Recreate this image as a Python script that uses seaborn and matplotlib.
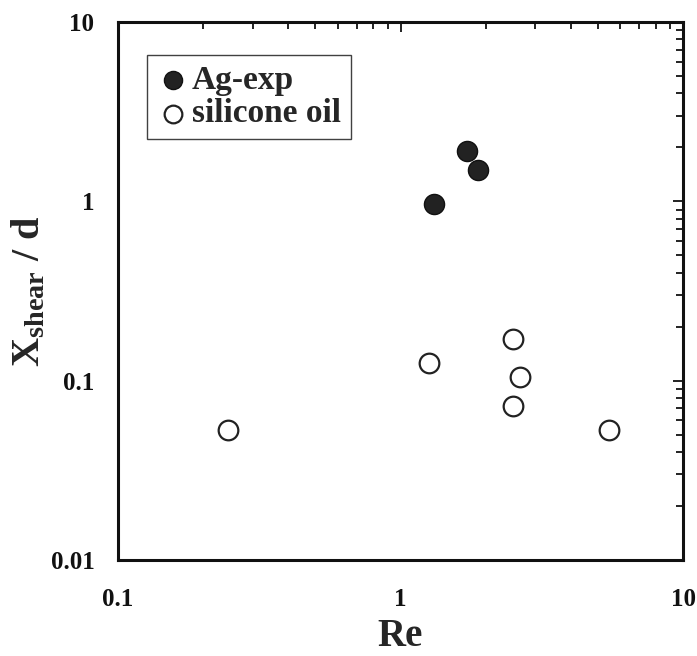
import matplotlib
matplotlib.use("Agg")
import matplotlib.pyplot as plt
import seaborn as sns
import pandas as pd
from matplotlib.ticker import LogLocator, NullFormatter, FixedLocator, FixedFormatter

# Measured data
ag_re = [1.31, 1.72, 1.88]
ag_x = [0.967, 1.91, 1.50]

oil_re = [0.245, 1.26, 2.50, 2.65, 2.50, 5.47]
oil_x = [0.053, 0.1256, 0.171, 0.105, 0.0723, 0.053]

x_ticks = [0.1, 1, 10]
x_tick_labels = ["0.1", "1", "10"]
y_ticks = [0.01, 0.1, 1, 10]
y_tick_labels = ["0.01", "0.1", "1", "10"]

sns.set_style("white")
plt.rcParams["font.family"] = ["Liberation Serif", "DejaVu Serif"]
plt.rcParams["font.weight"] = "bold"
plt.rcParams["mathtext.fontset"] = "custom"
plt.rcParams["mathtext.rm"] = "Liberation Serif:bold"
plt.rcParams["mathtext.bf"] = "Liberation Serif:bold"
plt.rcParams["mathtext.it"] = "Liberation Serif:bold"

ag = pd.DataFrame({"Re": ag_re, "X": ag_x})
oil = pd.DataFrame({"Re": oil_re, "X": oil_x})

fig = plt.figure(figsize=(6.97, 6.56), dpi=100)
ax = fig.add_axes([0.1693, 0.1463, 0.8107, 0.8202])

sns.scatterplot(data=ag, x="Re", y="X", ax=ax, s=210, color="#222222",
                edgecolor="#111111", linewidth=1.0, label="Ag-exp", zorder=3)
sns.scatterplot(data=oil, x="Re", y="X", ax=ax, s=200, facecolor="white",
                edgecolor="#222222", linewidth=1.6, label="silicone oil", zorder=3)

ax.set_xscale("log")
ax.set_yscale("log")
ax.set_xlim(0.1, 10)
ax.set_ylim(0.01, 10)

ax.xaxis.set_major_locator(FixedLocator(x_ticks))
ax.xaxis.set_major_formatter(FixedFormatter(x_tick_labels))
ax.yaxis.set_major_locator(FixedLocator(y_ticks))
ax.yaxis.set_major_formatter(FixedFormatter(y_tick_labels))
ax.xaxis.set_minor_locator(LogLocator(base=10, subs=range(2, 10)))
ax.yaxis.set_minor_locator(LogLocator(base=10, subs=range(2, 10)))
ax.xaxis.set_minor_formatter(NullFormatter())
ax.yaxis.set_minor_formatter(NullFormatter())

ax.tick_params(which="both", direction="in", top=True, right=True,
               colors="#111111", width=1.3)
ax.tick_params(which="major", length=7)
ax.tick_params(which="minor", length=5)
ax.tick_params(axis="x", which="major", pad=20, labelsize=18)
ax.tick_params(axis="y", which="major", pad=17, labelsize=18)
for lab in ax.get_xticklabels() + ax.get_yticklabels():
    lab.set_fontweight("bold")

for sp in ax.spines.values():
    sp.set_linewidth(2.2)
    sp.set_color("#111111")

ax.set_xlabel("Re", fontsize=28, fontweight="bold", labelpad=5)
ax.set_ylabel(r"$\mathrm{X_{shear}}$ / d", fontsize=29, fontweight="bold", labelpad=2)

leg = ax.legend(loc="upper left", bbox_to_anchor=(0.051, 0.939), borderaxespad=0,
                frameon=True, fancybox=False, edgecolor="#111111",
                prop={"family": "Liberation Serif", "weight": "bold", "size": 24},
                handletextpad=0.1, borderpad=0.3, labelspacing=0.08,
                handlelength=0.95, markerscale=0.9)
leg.get_frame().set_linewidth(1.0)

fig.savefig("out.png", dpi=100)
